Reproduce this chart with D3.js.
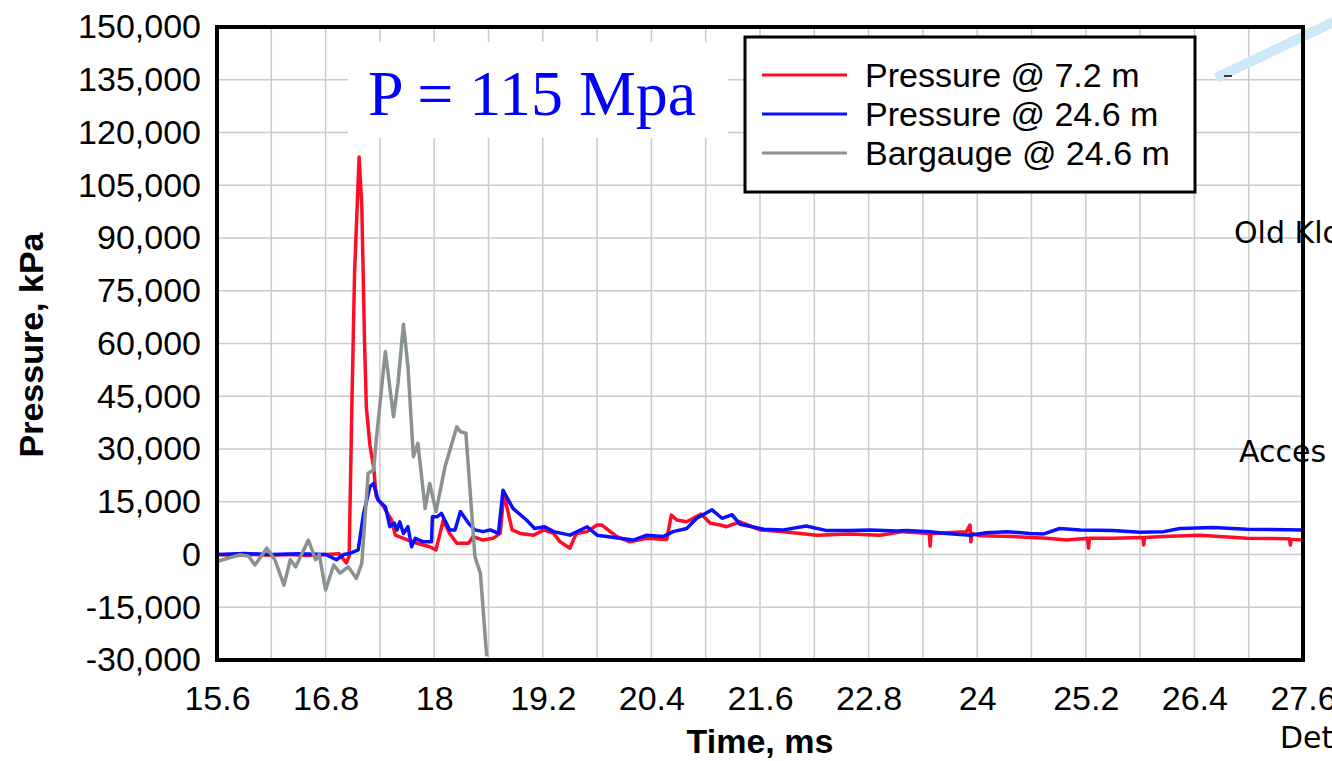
<!DOCTYPE html>
<html>
<head>
<meta charset="utf-8">
<script src="https://cdn.jsdelivr.net/npm/d3@7"></script>
<style>
  html, body { margin: 0; padding: 0; background: #fff; overflow: hidden; }
</style>
</head>
<body>
<div id="chart"></div>
<script>
// time axis ticks (ms) and pressure ticks (kPa)
const xTicks = [15.6, 16.8, 18, 19.2, 20.4, 21.6, 22.8, 24, 25.2, 26.4, 27.6];
const yTicks = [150000, 135000, 120000, 105000, 90000, 75000, 60000, 45000, 30000, 15000, 0, -15000, -30000];
const legendLabels = ['Pressure @ 7.2 m', 'Pressure @ 24.6 m', 'Bargauge @ 24.6 m'];

// Pressure @ 7.2 m
const tRed = [15.6, 15.8, 16.0, 16.2, 16.4, 16.6, 16.8, 16.95, 17.03, 17.06, 17.09, 17.12, 17.17, 17.2, 17.23, 17.25, 17.29, 17.33,
  17.36, 17.44, 17.53, 17.57, 17.66, 17.81, 17.95, 18.02, 18.1, 18.17, 18.25, 18.38, 18.43, 18.54, 18.65, 18.73, 18.77, 18.86,
  18.95, 19.1, 19.21, 19.32, 19.39, 19.5, 19.57, 19.69, 19.8, 19.85, 19.92, 20.02, 20.16, 20.35, 20.57, 20.62, 20.68, 20.79,
  20.95, 21.05, 21.16, 21.23, 21.38, 21.6, 21.86, 22.23, 22.59, 22.93, 23.18, 23.47, 23.48, 23.49, 23.66, 23.88, 23.92, 23.93,
  23.94, 24.03, 24.4, 24.77, 24.99, 25.22, 25.23, 25.24, 25.5, 25.83, 25.84, 25.85, 26.06, 26.46, 26.98, 27.45, 27.46, 27.47, 27.6];
const pRed = [0, -300, 0, -200, 0, -300, 0, 200, -2400, -500, 42000, 80000, 113000, 99000, 61000, 42000, 31000, 25000,
  16400, 13600, 9800, 5500, 4600, 3200, 2200, 1300, 9800, 6000, 3200, 3200, 5100, 4100, 4600, 6000, 17400, 7000,
  6000, 5500, 7000, 6000, 3600, 1800, 6000, 6500, 8400, 8400, 7000, 5100, 3600, 4600, 4300, 11200, 9800, 9300,
  11500, 8900, 8400, 7900, 9300, 7000, 6500, 5500, 5800, 5500, 6500, 6000, 2400, 6000, 6200, 6500, 8400, 3600,
  6000, 5300, 5100, 4600, 4100, 4600, 1800, 4600, 4600, 4800, 2700, 4800, 5100, 5500, 4600, 4500, 2700, 4300, 4100];

// Pressure @ 24.6 m
const tBlue = [15.6, 15.9, 16.2, 16.5, 16.8, 16.92, 17.0, 17.07, 17.16, 17.22, 17.29, 17.33, 17.38, 17.46, 17.51, 17.56, 17.59,
  17.62, 17.66, 17.71, 17.75, 17.79, 17.88, 17.97, 17.98, 18.03, 18.08, 18.17, 18.23, 18.29, 18.38, 18.45, 18.54, 18.62, 18.71,
  18.76, 18.87, 19.02, 19.11, 19.22, 19.32, 19.5, 19.69, 19.8, 20.05, 20.2, 20.35, 20.53, 20.64, 20.79, 20.9, 21.07, 21.18,
  21.29, 21.38, 21.64, 21.86, 22.11, 22.34, 22.59, 22.82, 23.11, 23.22, 23.48, 23.66, 23.92, 24.1, 24.33, 24.58, 24.73, 24.91,
  25.14, 25.5, 25.8, 26.06, 26.24, 26.61, 26.98, 27.6];
const pBlue = [0, 300, 0, 200, 0, -1500, 0, 300, 1300, 11700, 19300, 20200, 15500, 13600, 7900, 8900, 7000,
  9300, 6000, 7900, 2200, 4600, 3600, 3600, 10700, 10700, 11700, 7000, 7000, 12200, 8900, 7000, 6500, 7000, 6000,
  18300, 13100, 9800, 7400, 7900, 6500, 5500, 7900, 5500, 4600, 4100, 5500, 5100, 6500, 7400, 10300, 12700, 10300,
  11300, 8600, 7200, 7000, 8100, 6800, 6800, 7000, 6700, 6800, 6500, 6000, 5500, 6200, 6500, 6000, 5800, 7400,
  7000, 6800, 6300, 6500, 7400, 7700, 7200, 7000];

// Bargauge @ 24.6 m
const tGray = [15.6, 15.85, 15.95, 16.02, 16.15, 16.24, 16.34, 16.41, 16.47, 16.61, 16.69, 16.73, 16.8, 16.89, 16.96, 17.05,
  17.14, 17.2, 17.27, 17.33, 17.36, 17.46, 17.55, 17.6, 17.66, 17.71, 17.77, 17.82, 17.9, 17.95, 18.02, 18.12, 18.25, 18.29,
  18.35, 18.45, 18.51, 18.58];
const pGray = [-2000, -100, -500, -3000, 1800, -1500, -8700, -1500, -3500, 4100, -1500, 0, -10100, -3000, -5300, -3500,
  -6800, -2500, 23100, 24000, 32600, 57700, 39200, 48700, 65500, 53400, 27800, 31600, 13100, 20200, 12200, 25000, 36300, 34900,
  34500, -600, -5300, -29000];

const colors = ['#ff0d26', '#0a10ff', '#8a9290'];
const sans = 'Arial, "Liberation Sans", sans-serif';

const W = 1332, H = 761;
const margin = { top: 27, right: 29, bottom: 101, left: 217 };
const innerW = W - margin.left - margin.right;
const innerH = H - margin.top - margin.bottom;

const svg = d3.select('#chart').append('svg')
  .attr('width', W)
  .attr('height', H)
  .style('font-family', sans);

const x = d3.scaleLinear().domain([15.6, 27.6]).range([margin.left, margin.left + innerW]);
const y = d3.scaleLinear().domain([-30000, 150000]).range([margin.top + innerH, margin.top]);

// grid
const grid = svg.append('g').attr('class', 'grid');
grid.selectAll('line.v')
  .data(d3.range(0, 21).map(i => 15.6 + i * 0.6))
  .join('line')
  .attr('class', 'v')
  .attr('x1', d => x(d)).attr('x2', d => x(d))
  .attr('y1', y(150000)).attr('y2', y(-30000))
  .attr('stroke', '#cacaca').attr('stroke-width', 1.5);
grid.selectAll('line.h')
  .data(yTicks)
  .join('line')
  .attr('class', 'h')
  .attr('x1', x(15.6)).attr('x2', x(27.6))
  .attr('y1', d => y(d)).attr('y2', d => y(d))
  .attr('stroke', '#cacaca').attr('stroke-width', 1.5);

// white patch behind the title
svg.append('rect')
  .attr('x', 348).attr('y', 42).attr('width', 380).attr('height', 96)
  .attr('fill', '#fff');

// axes (labels only)
const commaFmt = d3.format(',');
const yAxis = d3.axisLeft(y).tickValues(yTicks).tickSize(0).tickPadding(16)
  .tickFormat(d => commaFmt(d).replace('\u2212', '-'));
svg.append('g')
  .attr('transform', `translate(${margin.left},0)`)
  .call(yAxis)
  .call(g => g.select('.domain').remove())
  .selectAll('text')
  .attr('fill', '#000')
  .style('font-size', '34px')
  .style('font-family', sans);

const xAxis = d3.axisBottom(x).tickValues(xTicks).tickSize(0).tickPadding(26)
  .tickFormat(d => String(+d.toFixed(1)));
svg.append('g')
  .attr('transform', `translate(0,${margin.top + innerH})`)
  .call(xAxis)
  .call(g => g.select('.domain').remove())
  .selectAll('text')
  .attr('fill', '#000')
  .style('font-size', '34px')
  .style('font-family', sans);

// axis titles
svg.append('text')
  .attr('x', 760).attr('y', 753)
  .attr('text-anchor', 'middle')
  .style('font-size', '34px').style('font-weight', 'bold')
  .text('Time, ms');
svg.append('text')
  .attr('transform', 'translate(43,345) rotate(-90)')
  .attr('text-anchor', 'middle')
  .style('font-size', '34px').style('font-weight', 'bold')
  .text('Pressure, kPa');

// data lines
const line = d3.line().x(d => x(d[0])).y(d => y(d[1]));
const series = [
  { t: tRed, p: pRed, c: colors[0] },
  { t: tBlue, p: pBlue, c: colors[1] },
  { t: tGray, p: pGray, c: colors[2] }
];
svg.append('g')
  .selectAll('path')
  .data(series)
  .join('path')
  .attr('d', s => line(s.t.map((t, i) => [t, s.p[i]])))
  .attr('fill', 'none')
  .attr('stroke', s => s.c)
  .attr('stroke-width', 3.5)
  .attr('stroke-linejoin', 'round');

// title
svg.append('text')
  .attr('x', 368).attr('y', 115)
  .style('font-family', '"Liberation Serif", "Times New Roman", serif')
  .style('font-size', '64px')
  .attr('fill', '#0000ff')
  .text('P = 115 Mpa');

// legend
const legend = svg.append('g');
legend.append('rect')
  .attr('x', 745).attr('y', 37).attr('width', 450).attr('height', 155)
  .attr('fill', '#fff').attr('stroke', '#000').attr('stroke-width', 3);
legendLabels.forEach((lab, i) => {
  const ly = 75 + i * 39;
  legend.append('line')
    .attr('x1', 762).attr('x2', 847).attr('y1', ly).attr('y2', ly)
    .attr('stroke', colors[i]).attr('stroke-width', 3);
  legend.append('text')
    .attr('x', 865).attr('y', ly + 12)
    .style('font-size', '34px')
    .text(lab);
});

// stray annotations from the source slide
svg.append('line')
  .attr('x1', 1216).attr('y1', 78).attr('x2', 1340).attr('y2', 19)
  .attr('stroke', '#cde9f8').attr('stroke-width', 10);
svg.append('line')
  .attr('x1', 1224).attr('y1', 76).attr('x2', 1232).attr('y2', 76)
  .attr('stroke', '#000').attr('stroke-width', 1.5);
[['Old Klo', 1234, 243], ['Acces', 1239, 462], ['Det', 1280, 748]].forEach(([s, tx, ty]) => {
  svg.append('text')
    .attr('x', tx).attr('y', ty)
    .style('font-size', '30px')
    .style('font-family', '"DejaVu Sans", sans-serif')
    .text(s);
});

// plot frame
svg.append('rect')
  .attr('x', margin.left).attr('y', margin.top)
  .attr('width', innerW).attr('height', innerH)
  .attr('fill', 'none').attr('stroke', '#000').attr('stroke-width', 4);
</script>
</body>
</html>
